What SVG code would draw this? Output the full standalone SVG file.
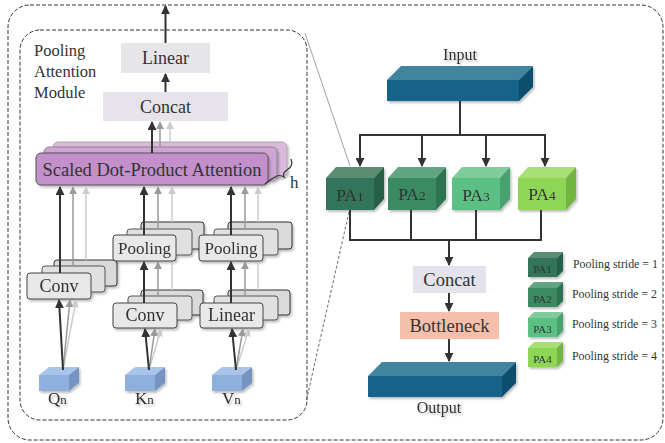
<svg xmlns="http://www.w3.org/2000/svg" width="665" height="443" viewBox="0 0 665 443">
<defs>
<style>
.t{font-family:"Liberation Serif","Times New Roman",serif;fill:#333}
.lg{font-size:11.9px}
.bx{fill:#e8e8e8;stroke:#444;stroke-width:1}
.bm{fill:#e0e0e0;stroke:#555;stroke-width:1}
.bb{fill:#dadada;stroke:#333;stroke-width:1}
.k{stroke:#333;stroke-width:2;fill:none}
.g{stroke:#999;stroke-width:1.5;fill:none}
.l{stroke:#ccc;stroke-width:1.5;fill:none}
.dash{fill:none;stroke:#333;stroke-width:1;stroke-dasharray:4 2}
</style>
<marker id="ak" viewBox="0 0 10 10" refX="9" refY="5" markerWidth="9" markerHeight="9" markerUnits="userSpaceOnUse" orient="auto"><path d="M0,0 L10,5 L0,10 z" fill="#333"/></marker>
<marker id="ag" viewBox="0 0 10 10" refX="9" refY="5" markerWidth="8" markerHeight="8" markerUnits="userSpaceOnUse" orient="auto"><path d="M0,0 L10,5 L0,10 z" fill="#999"/></marker>
<marker id="al" viewBox="0 0 10 10" refX="9" refY="5" markerWidth="8" markerHeight="8" markerUnits="userSpaceOnUse" orient="auto"><path d="M0,0 L10,5 L0,10 z" fill="#ccc"/></marker>
<filter id="sh" x="-20%" y="-20%" width="140%" height="150%"><feDropShadow dx="1.5" dy="2" stdDeviation="1.2" flood-color="#000" flood-opacity="0.25"/></filter>
</defs>

<rect class="dash" x="8" y="5" width="655" height="435" rx="22"/>
<rect class="dash" x="20" y="30" width="287" height="390" rx="20"/>
<line x1="305" y1="33" x2="350" y2="166" stroke="#777" stroke-width="0.7"/>
<line x1="349" y1="212" x2="306" y2="402" stroke="#444" stroke-width="0.8" stroke-dasharray="3 2"/>

<g id="module-label">
<text class="t" x="34" y="56" font-size="16.5">Pooling</text>
<text class="t" x="34" y="77" font-size="16.5">Attention</text>
<text class="t" x="34" y="98" font-size="16.5">Module</text>
</g>

<g id="linear-top"><rect x="121" y="43" width="89" height="30" fill="#e6e6e9"/><text class="t" x="165.5" y="64" font-size="18" text-anchor="middle">Linear</text></g>
<g id="concat-top"><rect x="103" y="92" width="125" height="29" fill="#e6e4ea"/><text class="t" x="165.5" y="113" font-size="18" text-anchor="middle">Concat</text></g>

<g id="sdpa">
<rect x="53" y="142" width="234" height="35" rx="5" fill="#dbb9dd" stroke="#aaa" filter="url(#sh)"/>
<rect x="44" y="147" width="233" height="34" rx="5" fill="#d0a4d4" stroke="#888" filter="url(#sh)"/>
<rect x="36" y="153" width="232" height="32" rx="5" fill="#c490cc" stroke="#555" filter="url(#sh)"/>
<text class="t" x="152" y="176" font-size="18.5" text-anchor="middle">Scaled Dot-Product Attention</text>
<path d="M291,159 Q294,166 287,170 Q282,173 284,177 Q279,174 275,177 Q268,181 265,184" fill="none" stroke="#333" stroke-width="1.2"/>
<text class="t" x="290" y="188" font-size="17">h</text>
</g>

<g id="q-conv" filter="url(#sh)">
<rect class="bb" x="54" y="260" width="63" height="26" rx="3"/>
<rect class="bm" x="42" y="266" width="63" height="26" rx="3"/>
<rect class="bx" x="27" y="273" width="64" height="26" rx="3"/>
<text class="t" x="59" y="292" font-size="18" text-anchor="middle">Conv</text>
</g>
<g id="k-pool" filter="url(#sh)">
<rect class="bb" x="141" y="222" width="63" height="27" rx="3"/>
<rect class="bm" x="127" y="229" width="65" height="26" rx="3"/>
<rect class="bx" x="113" y="235" width="63" height="26" rx="3"/>
<text class="t" x="144.5" y="254" font-size="17" text-anchor="middle">Pooling</text>
</g>
<g id="k-conv" filter="url(#sh)">
<rect class="bb" x="141" y="290" width="62" height="25" rx="3"/>
<rect class="bm" x="128" y="296" width="64" height="24" rx="3"/>
<rect class="bx" x="113" y="303" width="64" height="25" rx="3"/>
<text class="t" x="145" y="321" font-size="18" text-anchor="middle">Conv</text>
</g>
<g id="v-pool" filter="url(#sh)">
<rect class="bb" x="228" y="222" width="64" height="27" rx="3"/>
<rect class="bm" x="214" y="229" width="64" height="26" rx="3"/>
<rect class="bx" x="199" y="235" width="64" height="26" rx="3"/>
<text class="t" x="231" y="254" font-size="17" text-anchor="middle">Pooling</text>
</g>
<g id="v-linear" filter="url(#sh)">
<rect class="bb" x="228" y="290" width="62" height="25" rx="3"/>
<rect class="bm" x="214" y="296" width="64" height="24" rx="3"/>
<rect class="bx" x="200" y="303" width="63" height="25" rx="3"/>
<text class="t" x="231.5" y="321" font-size="18" text-anchor="middle">Linear</text>
</g>

<g id="q-cube" filter="url(#sh)">
<rect x="39" y="375" width="30" height="16" fill="#8fb0dc"/>
<polygon points="39,375 49,367 79,367 69,375" fill="#a9c4e8"/>
<polygon points="69,375 79,367 79,383 69,391" fill="#7494c2"/>
<text class="t" x="48" y="404" font-size="17">Q<tspan font-size="13">n</tspan></text>
</g>
<g id="k-cube" filter="url(#sh)">
<rect x="125" y="375" width="30" height="16" fill="#8fb0dc"/>
<polygon points="125,375 135,367 165,367 155,375" fill="#a9c4e8"/>
<polygon points="155,375 165,367 165,383 155,391" fill="#7494c2"/>
<text class="t" x="135" y="404" font-size="17">K<tspan font-size="13">n</tspan></text>
</g>
<g id="v-cube" filter="url(#sh)">
<rect x="212" y="375" width="30" height="16" fill="#8fb0dc"/>
<polygon points="212,375 222,367 252,367 242,375" fill="#a9c4e8"/>
<polygon points="242,375 252,367 252,383 242,391" fill="#7494c2"/>
<text class="t" x="222" y="404" font-size="17">V<tspan font-size="13">n</tspan></text>
</g>

<g id="input" filter="url(#sh)">
<text class="t" x="460" y="60" font-size="16" text-anchor="middle" filter="none">Input</text>
<rect x="387" y="80" width="132" height="21" fill="#14638a"/>
<polygon points="387,80 401,66 533,66 519,80" fill="#3f84a0"/>
<polygon points="519,80 533,66 533,87 519,101" fill="#0d4e6e"/>
</g>

<g id="pa1" filter="url(#sh)">
<rect x="326" y="178" width="48" height="32" fill="#33745a"/>
<polygon points="326,178 336,167 384,167 374,178" fill="#5a8d72"/>
<polygon points="374,178 384,167 384,199 374,210" fill="#285e46"/>
<text class="t" x="350" y="201" font-size="17.5" text-anchor="middle">PA<tspan font-size="13.5">1</tspan></text>
</g>
<g id="pa2" filter="url(#sh)">
<rect x="388" y="178" width="48" height="32" fill="#3a8a62"/>
<polygon points="388,178 398,167 446,167 436,178" fill="#62a583"/>
<polygon points="436,178 446,167 446,199 436,210" fill="#2d7350"/>
<text class="t" x="412" y="200" font-size="17.5" text-anchor="middle">PA<tspan font-size="13.5">2</tspan></text>
</g>
<g id="pa3" filter="url(#sh)">
<rect x="452" y="178" width="48" height="32" fill="#5cbf84"/>
<polygon points="452,178 462,167 510,167 500,178" fill="#80cc9c"/>
<polygon points="500,178 510,167 510,199 500,210" fill="#4aa26e"/>
<text class="t" x="476" y="201" font-size="17.5" text-anchor="middle">PA<tspan font-size="13.5">3</tspan></text>
</g>
<g id="pa4" filter="url(#sh)">
<rect x="518" y="178" width="48" height="32" fill="#8ed655"/>
<polygon points="518,178 528,167 576,167 566,178" fill="#a8e074"/>
<polygon points="566,178 576,167 576,199 566,210" fill="#72b540"/>
<text class="t" x="542" y="200" font-size="17.5" text-anchor="middle">PA<tspan font-size="13.5">4</tspan></text>
</g>

<g id="concat-right"><rect x="413" y="266" width="73" height="27" fill="#e4e2ea"/><text class="t" x="449.5" y="286" font-size="18.5" text-anchor="middle">Concat</text></g>
<g id="bottleneck"><rect x="400" y="312" width="99" height="27" fill="#f6bfab"/><text class="t" x="449.5" y="332" font-size="18.5" text-anchor="middle">Bottleneck</text></g>

<g id="output" filter="url(#sh)">
<rect x="368" y="376" width="134" height="21" fill="#14638a"/>
<polygon points="368,376 382,362 516,362 502,376" fill="#3f84a0"/>
<polygon points="502,376 516,362 516,383 502,397" fill="#0d4e6e"/>
<text class="t" x="439" y="413" font-size="16" text-anchor="middle" filter="none">Output</text>
</g>

<g id="legend">
<g id="leg1" filter="url(#sh)"><rect x="528" y="258" width="29" height="19" fill="#33745a"/><polygon points="528,258 534,252 563,252 557,258" fill="#5a8d72"/><polygon points="557,258 563,252 563,271 557,277" fill="#285e46"/><text class="t" x="542.5" y="273" font-size="11" text-anchor="middle">PA1</text></g>
<text class="t lg" x="573" y="268">Pooling stride = 1</text>
<g id="leg2" filter="url(#sh)"><rect x="528" y="288" width="29" height="19" fill="#3a8a62"/><polygon points="528,288 534,282 563,282 557,288" fill="#62a583"/><polygon points="557,288 563,282 563,301 557,307" fill="#2d7350"/><text class="t" x="542.5" y="303" font-size="11" text-anchor="middle">PA2</text></g>
<text class="t lg" x="572" y="298">Pooling stride = 2</text>
<g id="leg3" filter="url(#sh)"><rect x="528" y="318" width="29" height="19" fill="#5cbf84"/><polygon points="528,318 534,312 563,312 557,318" fill="#80cc9c"/><polygon points="557,318 563,312 563,331 557,337" fill="#4aa26e"/><text class="t" x="542.5" y="333" font-size="11" text-anchor="middle">PA3</text></g>
<text class="t lg" x="572" y="328">Pooling stride = 3</text>
<g id="leg4" filter="url(#sh)"><rect x="528" y="348" width="29" height="19" fill="#8ed655"/><polygon points="528,348 534,342 563,342 557,348" fill="#a8e074"/><polygon points="557,348 563,342 563,361 557,367" fill="#72b540"/><text class="t" x="542.5" y="363" font-size="11" text-anchor="middle">PA4</text></g>
<text class="t lg" x="572" y="360">Pooling stride = 4</text>
</g>

<g id="connectors">
<line class="k" x1="165.5" y1="43" x2="165.5" y2="6" marker-end="url(#ak)"/>
<line class="k" x1="165.5" y1="92" x2="165.5" y2="74" marker-end="url(#ak)"/>
<line class="k" x1="152" y1="153" x2="152" y2="122" marker-end="url(#ak)"/>
<line class="g" x1="160" y1="147" x2="160" y2="122" marker-end="url(#ag)"/>
<line class="l" x1="170" y1="142" x2="170" y2="122" marker-end="url(#al)"/>

<line class="k" x1="60" y1="273" x2="60" y2="187" marker-end="url(#ak)"/>
<line class="g" x1="73" y1="266" x2="73" y2="187" marker-end="url(#ag)"/>
<line class="l" x1="86" y1="260" x2="86" y2="187" marker-end="url(#al)"/>
<line class="k" x1="144" y1="235" x2="144" y2="187" marker-end="url(#ak)"/>
<line class="g" x1="158" y1="229" x2="158" y2="187" marker-end="url(#ag)"/>
<line class="l" x1="172" y1="222" x2="172" y2="187" marker-end="url(#al)"/>
<line class="k" x1="231" y1="235" x2="231" y2="187" marker-end="url(#ak)"/>
<line class="g" x1="245" y1="229" x2="245" y2="187" marker-end="url(#ag)"/>
<line class="l" x1="258" y1="222" x2="258" y2="187" marker-end="url(#al)"/>

<line class="k" x1="144" y1="303" x2="144" y2="262" marker-end="url(#ak)"/>
<line class="g" x1="158" y1="296" x2="158" y2="262" marker-end="url(#ag)"/>
<line class="l" x1="172" y1="290" x2="172" y2="262"/>
<line class="k" x1="231" y1="303" x2="231" y2="262" marker-end="url(#ak)"/>
<line class="g" x1="245" y1="296" x2="245" y2="262" marker-end="url(#ag)"/>
<line class="l" x1="258" y1="290" x2="258" y2="262"/>

<line class="l" x1="63" y1="370" x2="76" y2="300" marker-end="url(#al)"/>
<line class="g" x1="63" y1="370" x2="70" y2="300" marker-end="url(#ag)"/>
<line class="k" x1="63" y1="370" x2="59" y2="300" marker-end="url(#ak)"/>
<line class="l" x1="149" y1="370" x2="161" y2="329" marker-end="url(#al)"/>
<line class="g" x1="149" y1="370" x2="155" y2="329" marker-end="url(#ag)"/>
<line class="k" x1="149" y1="370" x2="145" y2="329" marker-end="url(#ak)"/>
<line class="l" x1="236" y1="370" x2="249" y2="329" marker-end="url(#al)"/>
<line class="g" x1="236" y1="370" x2="243" y2="329" marker-end="url(#ag)"/>
<line class="k" x1="236" y1="370" x2="232" y2="329" marker-end="url(#ak)"/>

<line class="k" x1="460" y1="101" x2="460" y2="135"/>
<line class="k" x1="359" y1="135" x2="546" y2="135"/>
<line class="k" x1="360" y1="135" x2="360" y2="166" marker-end="url(#ak)"/>
<line class="k" x1="422" y1="135" x2="422" y2="166" marker-end="url(#ak)"/>
<line class="k" x1="486" y1="135" x2="486" y2="166" marker-end="url(#ak)"/>
<line class="k" x1="545" y1="135" x2="545" y2="166" marker-end="url(#ak)"/>

<line class="k" x1="350" y1="210" x2="350" y2="240"/>
<line class="k" x1="411" y1="210" x2="411" y2="240"/>
<line class="k" x1="476" y1="210" x2="476" y2="240"/>
<line class="k" x1="541" y1="210" x2="541" y2="240"/>
<line class="k" x1="349" y1="240" x2="542" y2="240"/>
<line class="k" x1="449" y1="240" x2="449" y2="265" marker-end="url(#ak)"/>
<line class="k" x1="449" y1="293" x2="449" y2="311" marker-end="url(#ak)"/>
<line class="k" x1="449" y1="339" x2="449" y2="361" marker-end="url(#ak)"/>
</g>
</svg>
